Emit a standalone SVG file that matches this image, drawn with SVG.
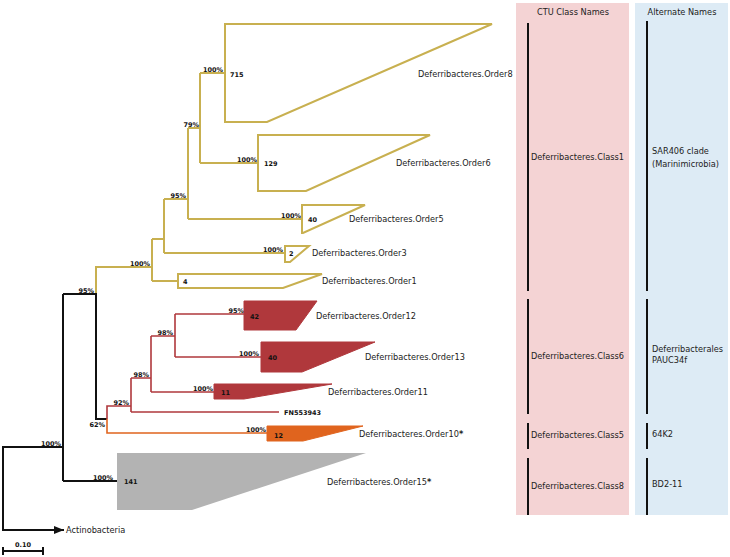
<svg xmlns="http://www.w3.org/2000/svg" width="730" height="557" viewBox="0 0 730 557">
<defs>
<style>
.y{fill:none;stroke:#c8b050;stroke-width:2}
.r{fill:none;stroke:#b0383c;stroke-width:1.6}
.o{fill:none;stroke:#e0641e;stroke-width:1.6}
.k{fill:none;stroke:#111;stroke-width:2}
.cy{fill:#fff;stroke:#c8b050;stroke-width:2}
.cr{fill:#b0383c;stroke:#b0383c;stroke-width:1}
.co{fill:#e0641e;stroke:#e0641e;stroke-width:1}
.cg{fill:#b3b3b3;stroke:none}
.b{font-family:"DejaVu Sans",sans-serif;font-size:6.5px;font-weight:bold;fill:#111;text-anchor:end}
.n{font-family:"DejaVu Sans",sans-serif;font-size:6.5px;font-weight:bold;fill:#111}
.t{font-family:"DejaVu Sans",sans-serif;font-size:8.2px;fill:#222}
.h{font-family:"DejaVu Sans",sans-serif;font-size:8.2px;fill:#222;text-anchor:middle}
.ast{font-weight:bold}
.bar{stroke:#111;stroke-width:2}
</style>
<marker id="arr" viewBox="0 0 10 8" refX="10" refY="4" markerWidth="10" markerHeight="8" markerUnits="userSpaceOnUse" orient="auto">
<path d="M0,0 L10,4 L0,8 Z" fill="#111"/>
</marker>
</defs>
<rect width="730" height="557" fill="#fff"/>
<g id="panels">
<rect x="516" y="3" width="113" height="512" fill="#f4d3d4"/>
<rect x="635" y="3" width="93" height="512" fill="#ddebf5"/>
<text class="h" x="573" y="15">CTU Class Names</text>
<text class="h" x="682" y="15">Alternate Names</text>
</g>
<g id="connectors">
<path class="y" d="M96,294 V267 H152 M152,239 V281 M152,239 H164 M152,281 H178 M164,199 V253 M164,199 H188 M164,253 H285 M188,128 V219 M188,128 H200 M188,219 H302 M200,73 V163 M200,73 H225 M200,163 H258"/>
<path class="k" d="M3,447 H63 M63,294 V481 M63,294 H96 V419 H107 M63,481 H117"/>
<path class="k" d="M3,446 V530 H64" marker-end="url(#arr)"/>
<path class="r" d="M107,419 V406 H131 M131,378 V412 M131,378 H151 M151,336 V392 M151,336 H175 M175,314 V357 M175,314 H244 M175,357 H261 M151,392 H214 M131,412 H279"/>
<path class="o" d="M107,419 V433 H267"/>
</g>
<g id="support">
<text class="b" x="223" y="72">100%</text>
<text class="b" x="199" y="127">79%</text>
<text class="b" x="257" y="162">100%</text>
<text class="b" x="186" y="198">95%</text>
<text class="b" x="301" y="218">100%</text>
<text class="b" x="283" y="252">100%</text>
<text class="b" x="150" y="266">100%</text>
<text class="b" x="94" y="293">95%</text>
<text class="b" x="244" y="313">95%</text>
<text class="b" x="173" y="335">98%</text>
<text class="b" x="259" y="356">100%</text>
<text class="b" x="149" y="377">98%</text>
<text class="b" x="213" y="391">100%</text>
<text class="b" x="129" y="405">92%</text>
<text class="b" x="105" y="427">62%</text>
<text class="b" x="266" y="432">100%</text>
<text class="b" x="61" y="446">100%</text>
<text class="b" x="113" y="480">100%</text>
</g>
<g id="order8">
<polygon class="cy" points="225,24 492,24 267,122 225,122"/>
<text class="n" x="230" y="76.5">715</text>
<text class="t" x="418" y="77">Deferribacteres.Order8</text>
</g>
<g id="order6">
<polygon class="cy" points="258,135 430,135 306,191 258,191"/>
<text class="n" x="264" y="166">129</text>
<text class="t" x="396" y="166">Deferribacteres.Order6</text>
</g>
<g id="order5">
<polygon class="cy" points="302,205 365,205 303,233 302,233"/>
<text class="n" x="308" y="222">40</text>
<text class="t" x="349" y="222">Deferribacteres.Order5</text>
</g>
<g id="order3">
<polygon class="cy" points="285,246 309,246 290,262 285,262"/>
<text class="n" x="289" y="256">2</text>
<text class="t" x="312" y="256">Deferribacteres.Order3</text>
</g>
<g id="order1">
<polygon class="cy" points="178,274 322,274 283,288 178,288"/>
<text class="n" x="183" y="284">4</text>
<text class="t" x="322" y="284">Deferribacteres.Order1</text>
</g>
<g id="order12">
<polygon class="cr" points="244,301 317,301 296,330 244,330"/>
<text class="n" x="250" y="319">42</text>
<text class="t" x="316" y="319">Deferribacteres.Order12</text>
</g>
<g id="order13">
<polygon class="cr" points="261,342 375,342 302,372 261,372"/>
<text class="n" x="268" y="360">40</text>
<text class="t" x="365" y="360">Deferribacteres.Order13</text>
</g>
<g id="order11">
<polygon class="cr" points="214,384 332,384 244,399 214,399"/>
<text class="n" x="221" y="395">11</text>
<text class="t" x="328" y="395">Deferribacteres.Order11</text>
</g>
<g id="fn553943">
<text class="n" x="284" y="414.5">FN553943</text>
</g>
<g id="order10">
<polygon class="co" points="267,426 363,426 303,441 267,441"/>
<text class="n" x="274" y="438">12</text>
<text class="t" x="359" y="437">Deferribacteres.Order10<tspan class="ast">*</tspan></text>
</g>
<g id="order15">
<polygon class="cg" points="117,453 366,453 192,510 117,510"/>
<text class="n" x="124" y="484">141</text>
<text class="t" x="327" y="485">Deferribacteres.Order15<tspan class="ast">*</tspan></text>
</g>
<g id="actinobacteria">
<text class="t" x="66" y="533">Actinobacteria</text>
</g>
<g id="scale">
<path class="bar" d="M3,551 H43 M3,547 V555 M43,547 V555" stroke-width="1.5"/>
<text class="n" x="23" y="547" text-anchor="middle">0.10</text>
</g>
<g id="class1">
<line class="bar" x1="528" y1="23" x2="528" y2="291"/>
<text class="t" x="531" y="160">Deferribacteres.Class1</text>
</g>
<g id="class6">
<line class="bar" x1="528" y1="299" x2="528" y2="414"/>
<text class="t" x="531" y="359">Deferribacteres.Class6</text>
</g>
<g id="class5">
<line class="bar" x1="528" y1="423" x2="528" y2="449"/>
<text class="t" x="531" y="438">Deferribacteres.Class5</text>
</g>
<g id="class8">
<line class="bar" x1="528" y1="458" x2="528" y2="515"/>
<text class="t" x="531" y="489">Deferribacteres.Class8</text>
</g>
<g id="alt-sar406">
<line class="bar" x1="647" y1="21" x2="647" y2="291"/>
<text class="t" x="652" y="154">SAR406 clade</text>
<text class="t" x="652" y="167">(Marinimicrobia)</text>
</g>
<g id="alt-pauc34f">
<line class="bar" x1="647" y1="299" x2="647" y2="414"/>
<text class="t" x="652" y="352">Deferribacterales</text>
<text class="t" x="652" y="363">PAUC34f</text>
</g>
<g id="alt-64k2">
<line class="bar" x1="647" y1="423" x2="647" y2="449"/>
<text class="t" x="652" y="437">64K2</text>
</g>
<g id="alt-bd2">
<line class="bar" x1="647" y1="458" x2="647" y2="515"/>
<text class="t" x="652" y="487">BD2-11</text>
</g>
</svg>
